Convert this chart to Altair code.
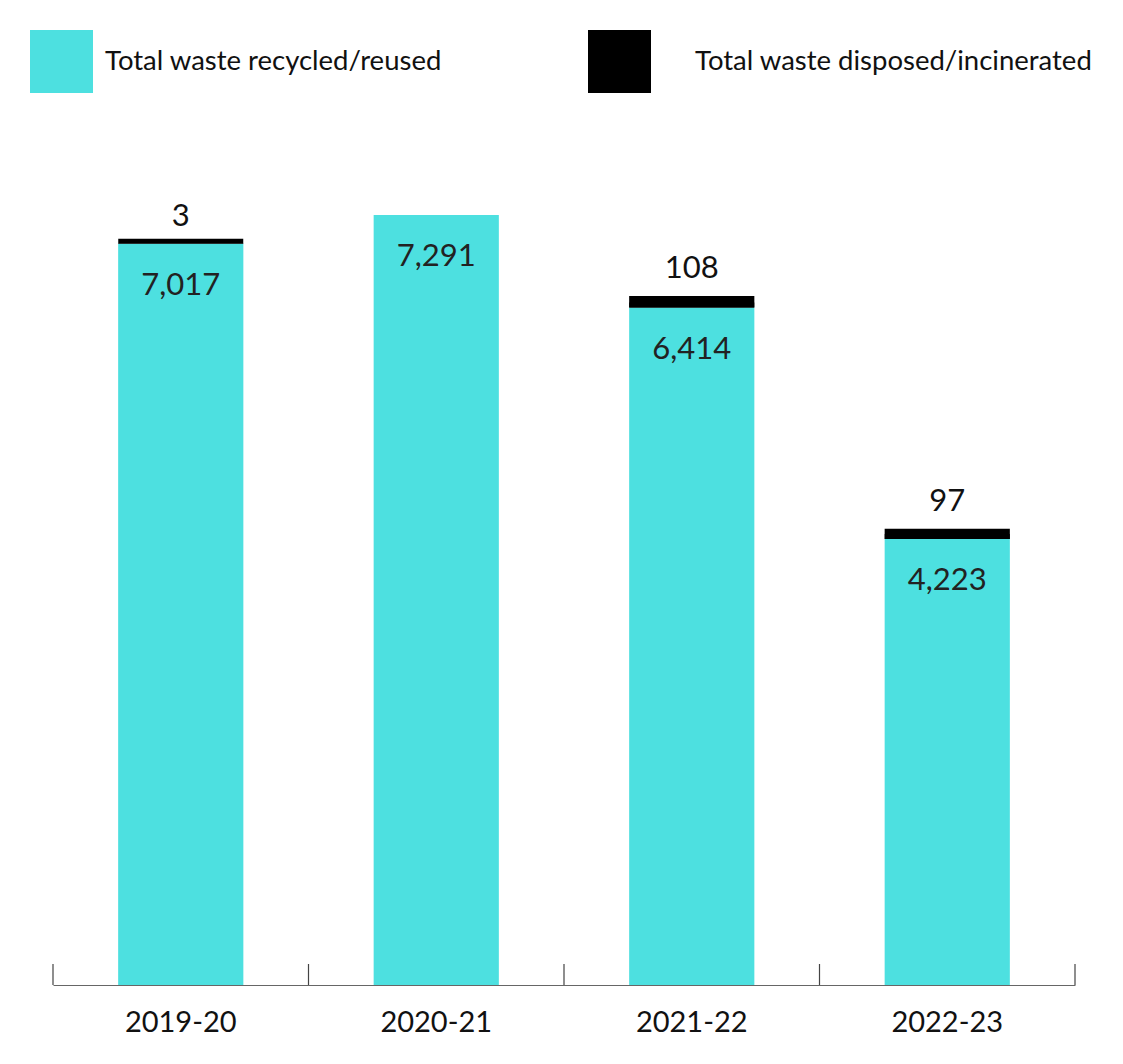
import altair as alt
import pandas as pd

years = ["2019-20", "2020-21", "2021-22", "2022-23"]
recycled = [7017, 7291, 6414, 4223]
disposed = [3, 0, 108, 97]
series_names = ["Total waste recycled/reused", "Total waste disposed/incinerated"]
colors = ["#4DE0E0", "#000000"]

rows = []
for y, r, d in zip(years, recycled, disposed):
    rows.append({"year": y, "series": series_names[0], "value": r, "order": 0,
                 "recycled": r, "total": r + d, "label": f"{r:,}"})
    rows.append({"year": y, "series": series_names[1], "value": d, "order": 1,
                 "recycled": r, "total": r + d, "label": f"{d:,}"})
df = pd.DataFrame(rows)
rec_df = df[df.order == 0]
dis_df = df[df.order == 1]
dis_lab = dis_df[dis_df.value > 0]
yr_df = pd.DataFrame({"year": years})

FONT = "Lato"
xscale = alt.Scale(domain=years, paddingInner=0, paddingOuter=0)
yscale = alt.Scale(domain=[0, 8000])
X = alt.X("year:N", scale=xscale, sort=years,
          axis=alt.Axis(title=None, ticks=False, domainColor="#666666", domainWidth=1.2,
                        labelFontSize=29, labelColor="#111111", labelPadding=23,
                        labelFont=FONT, labelAngle=0))

def legend(x, offset):
    return alt.Legend(title=None, orient="none", legendX=x, legendY=-110,
                      direction="horizontal", symbolType="square", symbolSize=3969,
                      symbolStrokeWidth=0, symbolOpacity=1, labelFontSize=27.5, labelFont=FONT,
                      labelColor="#111111", labelOffset=offset, padding=0, labelLimit=600)

bar_rec = alt.Chart(rec_df).mark_bar(width=alt.RelativeBandSize(0.49)).encode(
    x=X,
    y=alt.Y("recycled:Q", scale=yscale, axis=None),
    color=alt.Color("series:N", scale=alt.Scale(domain=[series_names[0]], range=[colors[0]]),
                    legend=legend(-23, 12)),
)

bar_dis = alt.Chart(dis_df).mark_bar(width=alt.RelativeBandSize(0.49)).encode(
    x=X,
    y=alt.Y("total:Q", scale=yscale, axis=None),
    y2="recycled:Q",
    fill=alt.Fill("series:N", scale=alt.Scale(domain=[series_names[1]], range=[colors[1]]),
                  legend=legend(535, 44)),
)

min_black = alt.Chart(dis_lab).mark_tick(thickness=5, size=125, color="#000000", opacity=1,
                                         yOffset=-2.5).encode(
    x=alt.X("year:N", scale=xscale, sort=years),
    y=alt.Y("recycled:Q", scale=yscale),
)

rec_text = alt.Chart(rec_df).mark_text(fontSize=31, font=FONT, color="#222222",
                                       baseline="middle", dy=42).encode(
    x=alt.X("year:N", scale=xscale, sort=years),
    y=alt.Y("recycled:Q", scale=yscale),
    text="label:N",
)

dis_text = alt.Chart(dis_lab).mark_text(fontSize=31, font=FONT, color="#111111",
                                        baseline="middle", dy=-27).encode(
    x=alt.X("year:N", scale=xscale, sort=years),
    y=alt.Y("total:Q", scale=yscale),
    text="label:N",
)

ticks_start = alt.Chart(yr_df).mark_rule(color="#444444", strokeWidth=1.2).encode(
    x=alt.X("year:N", scale=xscale, sort=years, bandPosition=0),
    y=alt.value(824), y2=alt.value(845),
)
ticks_end = alt.Chart(yr_df[yr_df.year == years[-1]]).mark_rule(color="#444444", strokeWidth=1.2).encode(
    x=alt.X("year:N", scale=xscale, sort=years, bandPosition=1),
    y=alt.value(824), y2=alt.value(845),
)

chart = alt.layer(bar_rec, bar_dis, min_black, rec_text, dis_text, ticks_start, ticks_end).properties(
    width=1022, height=845,
    autosize=alt.AutoSizeParams(type="none"),
    padding={"left": 53, "top": 140, "right": 48, "bottom": 79},
    background="white",
).configure_view(stroke=None)

chart.save("out.html", embed_options={"renderer": "svg", "actions": False})
